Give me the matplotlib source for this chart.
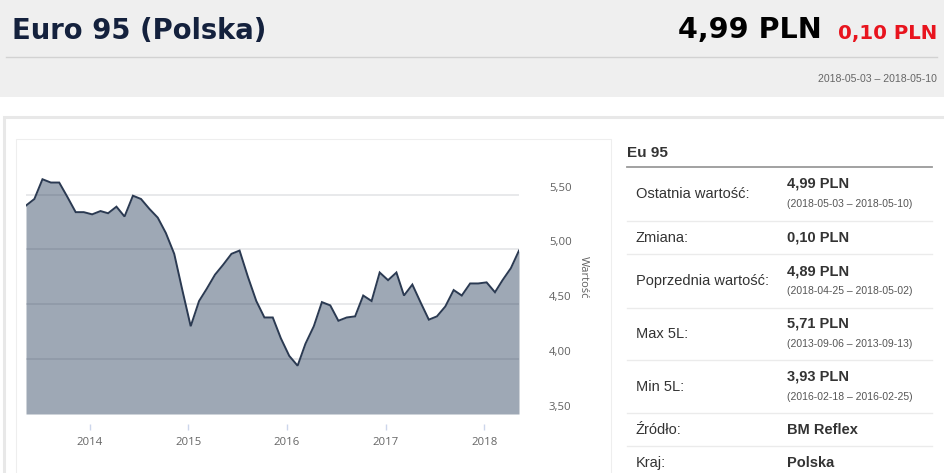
import matplotlib
matplotlib.use("Agg")
import matplotlib.pyplot as plt
import matplotlib.transforms as mtrans
from matplotlib.patches import Rectangle
from matplotlib.lines import Line2D
import pandas as pd

# ---------------- data ----------------
start_date = "2013-05-10"
prices = [5.40, 5.46, 5.64, 5.61, 5.61, 5.48, 5.34, 5.34, 5.32, 5.35,
          5.33, 5.39, 5.30, 5.49, 5.46, 5.37, 5.29, 5.15, 4.96, 4.63,
          4.30, 4.53, 4.64, 4.77, 4.86, 4.96, 4.99, 4.75, 4.53, 4.38,
          4.38, 4.19, 4.03, 3.94, 4.14, 4.30, 4.52, 4.49, 4.35, 4.38,
          4.39, 4.58, 4.53, 4.79, 4.72, 4.79, 4.58, 4.68, 4.52, 4.36,
          4.39, 4.48, 4.63, 4.58, 4.69, 4.69, 4.70, 4.61, 4.72, 4.83,
          4.99]
year_ticks = [2014, 2015, 2016, 2017, 2018]
y_ticks = [3.5, 4.0, 4.5, 5.0, 5.5]
y_tick_labels = ["3,50", "4,00", "4,50", "5,00", "5,50"]

title = "Euro 95 (Polska)"
last_value = "4,99 PLN"
change_value = "0,10 PLN"
period = "2018-05-03 \u2013 2018-05-10"
table_title = "Eu 95"
table_rows = [
    ("Ostatnia wartość:", "4,99 PLN", "(2018-05-03 \u2013 2018-05-10)"),
    ("Zmiana:", "0,10 PLN", None),
    ("Poprzednia wartość:", "4,89 PLN", "(2018-04-25 \u2013 2018-05-02)"),
    ("Max 5L:", "5,71 PLN", "(2013-09-06 \u2013 2013-09-13)"),
    ("Min 5L:", "3,93 PLN", "(2016-02-18 \u2013 2016-02-25)"),
    ("Źródło:", "BM Reflex", None),
    ("Kraj:", "Polska", None),
]

dates = pd.date_range(start=start_date, periods=len(prices), freq=pd.DateOffset(months=1))

# ---------------- fonts ----------------
head_font = ["DejaVu Sans"]
arial = ["Liberation Sans", "DejaVu Sans"]
plt.rcParams["font.family"] = ["Open Sans", "DejaVu Sans"]

W, H = 945, 473
fig = plt.figure(figsize=(W / 100, H / 100), dpi=100)

def fx(x):
    return x / W

def fy(y):
    return 1 - y / H

# header background
fig.patches.append(Rectangle((0, fy(97)), 1, 97 / H, transform=fig.transFigure,
                             facecolor="#efefef", edgecolor="none", zorder=-3))
fig.lines.append(Line2D([fx(6), fx(937)], [fy(57.5), fy(57.5)], transform=fig.transFigure,
                        color="#d2d2d2", lw=1, zorder=-1))
# panel border
fig.patches.append(Rectangle((fx(4), fy(480)), fx(960), (480 - 117) / H, transform=fig.transFigure,
                             facecolor="white", edgecolor="#e8e8e8", lw=2.2, zorder=-2))
# chart box
fig.patches.append(Rectangle((fx(16), fy(480)), fx(611 - 16), (480 - 138.5) / H, transform=fig.transFigure,
                             facecolor="white", edgecolor="#eeeeee", lw=0.8, zorder=-1))

fig.text(fx(12), fy(38.5), title, fontsize=19.8, color="#14213d", family=head_font,
         fontweight="bold", ha="left", va="baseline")
fig.text(fx(822), fy(38.5), last_value, fontsize=20.6, color="#000000", family=head_font,
         fontweight="bold", ha="right", va="baseline")
fig.text(fx(937), fy(38.5), change_value, fontsize=14.2, color="#e8141e", family=head_font,
         fontweight="bold", ha="right", va="baseline")
fig.text(fx(937), fy(82), period, fontsize=7.6, color="#666666", family=arial,
         ha="right", va="baseline")

# ---------------- chart ----------------
ymin, ymax = 3.5, 5.8
px_per_unit = 109.7
ax_bottom = 414
ax_top = ax_bottom - (ymax - ymin) * px_per_unit
ax_left, ax_right = 26, 519
ax = fig.add_axes([fx(ax_left), fy(ax_bottom), (ax_right - ax_left) / W, (ax_bottom - ax_top) / H])
ax.set_zorder(5)
ax.set_facecolor("none")
ax.set_xlim(dates[0], dates[-1])
ax.set_ylim(ymin, ymax)

ax.fill_between(dates, prices, ymin, color="#9ea8b5", lw=0, zorder=1)
for v in y_ticks[1:]:
    ax.axhline(v, color=(0.12, 0.16, 0.25, 0.12), lw=1.2, zorder=1.5)
ax.plot(dates, prices, color="#2b3a52", lw=1.4, zorder=2, solid_joinstyle="miter")

for s in ["left", "right", "top", "bottom"]:
    ax.spines[s].set_visible(False)
ax.spines["bottom"].set_position(("outward", 7.2))
ax.set_yticks([])
ax.set_xticks([pd.Timestamp(f"{y}-01-01") for y in year_ticks])
ax.set_xticklabels([str(y) for y in year_ticks])
ax.tick_params(axis="x", length=4, width=1, color="#ccd6eb", pad=5,
               labelsize=8.2, labelcolor="#666666")

ytrans = ax.get_yaxis_transform()
off = mtrans.ScaledTranslation(30 / 100, 6.5 / 100, fig.dpi_scale_trans)
for v, lab in zip(y_ticks, y_tick_labels):
    ax.text(1.0, v, lab, transform=ytrans + off, fontsize=8.2, color="#606060",
            ha="left", va="center")
ax.text(1.0, 4.75, "Wartość", transform=ytrans + mtrans.ScaledTranslation(64 / 100, 0, fig.dpi_scale_trans),
        rotation=270, fontsize=8, color="#606060", ha="center", va="center")

# ---------------- table ----------------
fig.text(fx(627), fy(157), table_title, fontsize=11, fontweight="bold", color="#333333",
         family=arial, ha="left", va="baseline")
fig.lines.append(Line2D([fx(627), fx(932)], [fy(167), fy(167)], transform=fig.transFigure,
                        color="#9a9a9a", lw=1.3))
row_bounds = [167, 221, 254.5, 307.5, 360, 413, 446, 480]
for i, (lab, val, sub) in enumerate(table_rows):
    top, bot = row_bounds[i], row_bounds[i + 1]
    if i > 0:
        fig.lines.append(Line2D([fx(627), fx(932)], [fy(top), fy(top)], transform=fig.transFigure,
                                color="#ebebeb", lw=1))
    mid = (top + bot) / 2 if i < len(table_rows) - 1 else 463
    fig.text(fx(636), fy(mid), lab, fontsize=10.5, color="#333333", family=arial,
             ha="left", va="center")
    if sub:
        fig.text(fx(787), fy(mid - 10), val, fontsize=10.5, fontweight="bold", color="#333333",
                 family=arial, ha="left", va="center")
        fig.text(fx(787), fy(mid + 10), sub, fontsize=7.5, color="#555555", family=arial,
                 ha="left", va="center")
    else:
        fig.text(fx(787), fy(mid), val, fontsize=10.5, fontweight="bold", color="#333333",
                 family=arial, ha="left", va="center")

fig.savefig("out.png", dpi=100)
